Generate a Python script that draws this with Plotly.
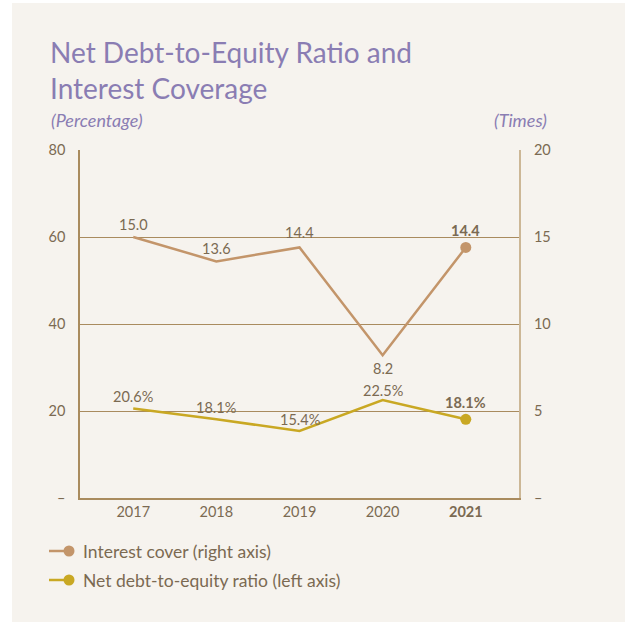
import plotly.graph_objects as go

years = ["2017", "2018", "2019", "2020", "2021"]
year_ticktext = ["2017", "2018", "2019", "2020", "<b>2021</b>"]
interest_cover = [15.0, 13.6, 14.4, 8.2, 14.4]
interest_labels = ["15.0", "13.6", "14.4", "8.2", "<b>14.4</b>"]
net_debt = [20.6, 18.1, 15.4, 22.5, 18.1]
net_debt_labels = ["20.6%", "18.1%", "15.4%", "22.5%", "<b>18.1%</b>"]
left_ticks = [0, 20, 40, 60, 80]
left_ticktext = ["–", "20", "40", "60", "80"]
right_ticks = [0, 5, 10, 15, 20]
right_ticktext = ["–", "5", "10", "15", "20"]

# label offsets in pixels (styling, not data)
ic_shift = [13, 13, 15, -13, 17]
nd_shift = [12, 12, 12, 10, 17]

BG = "#f6f3ee"
TXT = "#7b6a52"
GRID = "#a98b5e"
C_IC = "#c3956a"
C_ND = "#c9a823"
PURPLE = "#8a7db3"
FONT = "Lato"

W, H = 625, 622
# plot area in page pixels: left 80, right 519, top 150, bottom 498
L, T = 80, 150
R = W - 519
B = H - 498
pw, ph = W - L - R, H - T - B

def px(x):
    return (x - L) / pw

def py(y):
    return (H - B - y) / ph

xs = list(range(5))
fig = go.Figure()
fig.add_trace(go.Scatter(
    x=xs, y=interest_cover, yaxis="y2", mode="lines+markers",
    line=dict(color=C_IC, width=2.5),
    marker=dict(size=[0, 0, 0, 0, 11], color=C_IC, opacity=1, line=dict(width=0)),
    cliponaxis=False, showlegend=False, hoverinfo="skip"))
fig.add_trace(go.Scatter(
    x=xs, y=net_debt, yaxis="y", mode="lines+markers",
    line=dict(color=C_ND, width=2.5),
    marker=dict(size=[0, 0, 0, 0, 11], color=C_ND, opacity=1, line=dict(width=0)),
    cliponaxis=False, showlegend=False, hoverinfo="skip"))

shapes = [
    dict(type="rect", xref="paper", yref="paper", x0=px(0), x1=px(12), y0=py(H), y1=py(0),
         fillcolor="white", line=dict(width=0), layer="below"),
    dict(type="rect", xref="paper", yref="paper", x0=px(0), x1=px(W), y0=py(3), y1=py(0),
         fillcolor="white", line=dict(width=0), layer="below"),
]
annotations = [
    dict(text="Net Debt-to-Equity Ratio and<br>Interest Coverage", xref="paper", yref="paper",
         x=px(48), y=py(33), xanchor="left", yanchor="top", showarrow=False, align="left",
         font=dict(family=FONT, size=28, color=PURPLE)),
    dict(text="<i>(Percentage)</i>", xref="paper", yref="paper", x=px(49), y=py(120),
         xanchor="left", yanchor="middle", showarrow=False,
         font=dict(family=FONT, size=18, color=PURPLE)),
    dict(text="<i>(Times)</i>", xref="paper", yref="paper", x=px(549), y=py(120),
         xanchor="right", yanchor="middle", showarrow=False,
         font=dict(family=FONT, size=18, color=PURPLE)),
]
for i in xs:
    annotations.append(dict(x=i, y=interest_cover[i], xref="x", yref="y2", text=interest_labels[i],
                            showarrow=False, yshift=ic_shift[i], yanchor="middle",
                            font=dict(family=FONT, size=14.5, color=TXT)))
    annotations.append(dict(x=i, y=net_debt[i], xref="x", yref="y", text=net_debt_labels[i],
                            showarrow=False, yshift=nd_shift[i], yanchor="middle",
                            font=dict(family=FONT, size=14.5, color=TXT)))

legend_items = [("Interest cover (right axis)", C_IC, 551), ("Net debt-to-equity ratio (left axis)", C_ND, 580)]
for label, col, yy in legend_items:
    shapes.append(dict(type="line", xref="paper", yref="paper", x0=px(49), x1=px(68),
                       y0=py(yy), y1=py(yy), line=dict(color=col, width=2.5)))
    shapes.append(dict(type="circle", xref="paper", yref="paper", x0=px(63.5), x1=px(74.5),
                       y0=py(yy - 5.5), y1=py(yy + 5.5), fillcolor=col, line=dict(width=0)))
    annotations.append(dict(text=label, xref="paper", yref="paper", x=px(81), y=py(yy),
                            xanchor="left", yanchor="middle", showarrow=False,
                            font=dict(family=FONT, size=17.5, color=TXT)))

fig.update_layout(
    width=W, height=H, margin=dict(l=L, r=R, t=T, b=B),
    paper_bgcolor=BG, plot_bgcolor=BG,
    font=dict(family=FONT, size=14, color=TXT),
    xaxis=dict(range=[-0.64, 4.64], tickvals=xs, ticktext=year_ticktext,
               showgrid=False, zeroline=False, showline=True, linecolor=GRID, linewidth=1.5,
               ticks="", tickfont=dict(family=FONT, size=14.5, color=TXT), fixedrange=True),
    yaxis=dict(range=[0, 80], tickvals=left_ticks, ticktext=left_ticktext,
               showgrid=True, gridcolor=GRID, gridwidth=1.2, zeroline=False,
               showline=True, linecolor=GRID, linewidth=1.5, ticks="",
               ticklabelstandoff=10, tickfont=dict(family=FONT, size=14.5, color=TXT)),
    yaxis2=dict(range=[0, 20], tickvals=right_ticks, ticktext=right_ticktext,
                overlaying="y", side="right", showgrid=False, zeroline=False,
                showline=True, linecolor="#ccb796", linewidth=2, ticks="",
                ticklabelstandoff=10, tickfont=dict(family=FONT, size=14.5, color=TXT)),
    shapes=shapes, annotations=annotations,
)
fig.write_html("out.html", config={"displayModeBar": False},
               post_script="document.body.style.margin='0';document.body.style.overflow='hidden';")
